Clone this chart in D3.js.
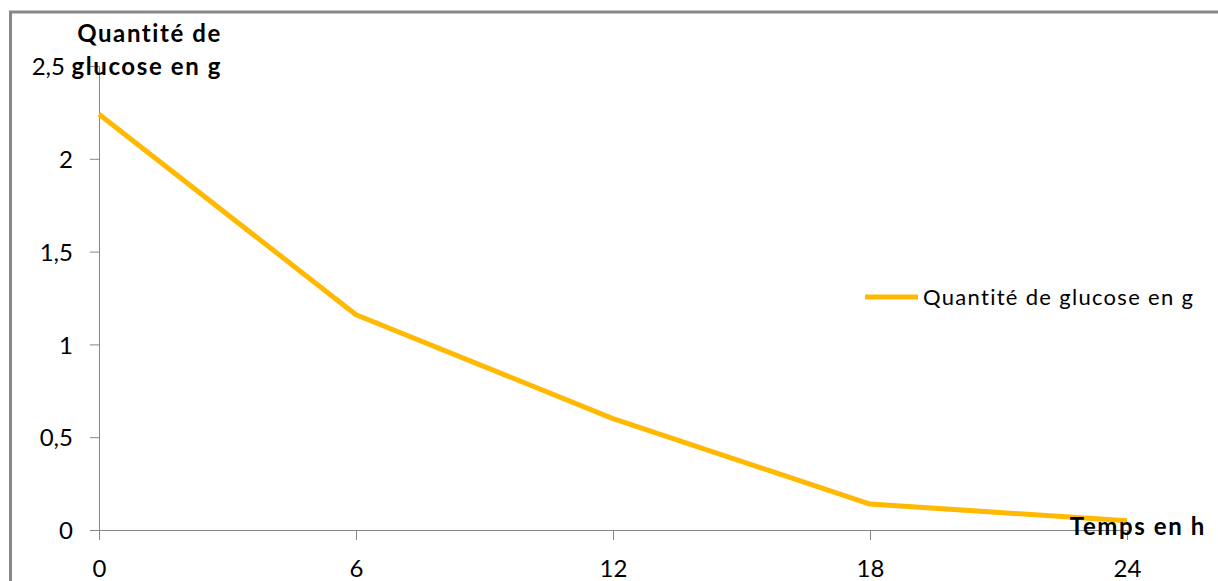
<!DOCTYPE html>
<html>
<head>
<meta charset="utf-8">
<script src="https://cdn.jsdelivr.net/npm/d3@7"></script>
<style>
  body { margin: 0; background: #fff; }
  svg text { font-family: Lato, "Open Sans", sans-serif; fill: #000; }
</style>
</head>
<body>
<div id="chart"></div>
<script>
// data
var hours = [0, 6, 12, 18, 24];
var glucose = [2.24, 1.16, 0.60, 0.14, 0.05];
var yTicks = [0, 0.5, 1, 1.5, 2, 2.5];
var yTickLabels = ["0", "0,5", "1", "1,5", "2", "2,5"];
var seriesName = "Quantité de glucose en g";

var W = 1218, H = 581;
var margin = { top: 66, right: 91, bottom: 51, left: 99 };
var width = W - margin.left - margin.right;
var height = H - margin.top - margin.bottom;

var svg = d3.select("#chart").append("svg")
    .attr("width", W)
    .attr("height", H);

// outer frame
svg.append("rect")
    .attr("x", 10.5).attr("y", 12)
    .attr("width", W + 20).attr("height", H + 20)
    .attr("fill", "none")
    .attr("stroke", "#888")
    .attr("stroke-width", 3);

var g = svg.append("g")
    .attr("transform", "translate(" + margin.left + "," + margin.top + ")");

var x = d3.scaleLinear().domain([0, 24]).range([0, width]);
var y = d3.scaleLinear().domain([0, 2.5]).range([height, 0]);

// y axis
var yAxis = g.append("g")
    .call(d3.axisLeft(y)
        .tickValues(yTicks)
        .tickSize(9)
        .tickPadding(17)
        .tickFormat(function (d, i) { return yTickLabels[i]; }));
yAxis.select(".domain").attr("stroke", "#868686");
yAxis.selectAll(".tick line").attr("stroke", "#868686");
yAxis.selectAll(".tick text")
    .style("font-size", "24px")
    .attr("dy", "0.36em");
// "2,5" sits a bit further left, next to the axis title
yAxis.selectAll(".tick text").filter(function (d) { return d === 2.5; })
    .attr("dx", -8);

// x axis
var xAxis = g.append("g")
    .attr("transform", "translate(0," + height + ")")
    .call(d3.axisBottom(x)
        .tickValues(hours)
        .tickSize(10)
        .tickPadding(20)
        .tickFormat(d3.format("d")));
xAxis.select(".domain").attr("stroke", "#868686");
xAxis.selectAll(".tick line").attr("stroke", "#868686");
xAxis.selectAll(".tick text").style("font-size", "24px");

// series line
var line = d3.line()
    .x(function (d, i) { return x(hours[i]); })
    .y(function (d) { return y(d); });

g.append("path")
    .datum(glucose)
    .attr("d", line)
    .attr("fill", "none")
    .attr("stroke", "#FFB900")
    .attr("stroke-width", 5)
    .attr("stroke-linejoin", "round");

// axis titles
svg.append("text")
    .attr("x", 222).attr("y", 42)
    .attr("text-anchor", "end")
    .style("font-size", "24px")
    .style("font-weight", "bold")
    .style("letter-spacing", "1.6px")
    .text("Quantité de");
svg.append("text")
    .attr("x", 222).attr("y", 75)
    .attr("text-anchor", "end")
    .style("font-size", "24px")
    .style("font-weight", "bold")
    .style("letter-spacing", "1.6px")
    .text("glucose en g");

svg.append("text")
    .attr("x", 1206).attr("y", 535)
    .attr("text-anchor", "end")
    .style("font-size", "24px")
    .style("font-weight", "bold")
    .style("letter-spacing", "1.6px")
    .text("Temps en h");

// legend
var legend = svg.append("g").attr("transform", "translate(865,297)");
legend.append("line")
    .attr("x1", 0).attr("x2", 53)
    .attr("stroke", "#FFB900")
    .attr("stroke-width", 5);
legend.append("text")
    .attr("x", 58).attr("y", 8)
    .style("font-size", "22px")
    .style("letter-spacing", "1.3px")
    .text(seriesName);
</script>
</body>
</html>
